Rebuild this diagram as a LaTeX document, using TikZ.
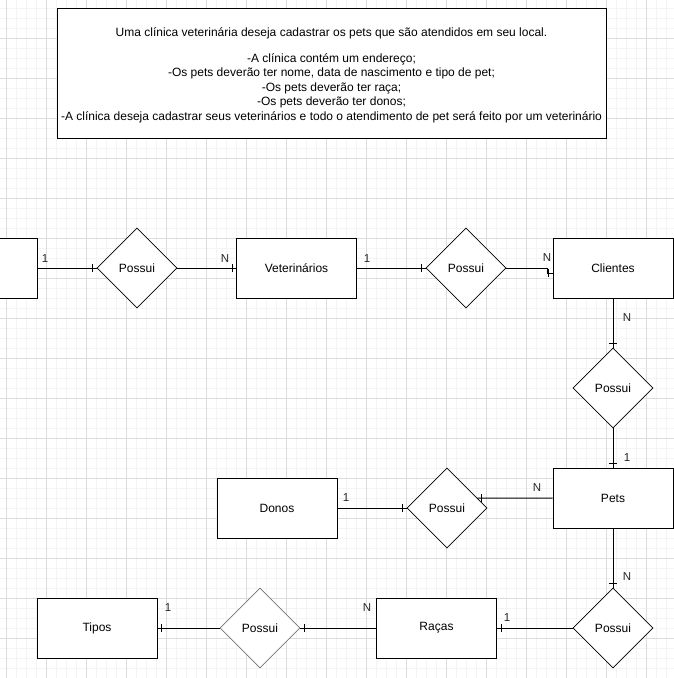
\documentclass[tikz,border=0pt]{standalone}
\usepackage{fontspec}
\setmainfont{Liberation Sans}
\usetikzlibrary{shapes.geometric,decorations.markings}
\definecolor{gridminor}{HTML}{F4F4F4}
\definecolor{gridmajor}{HTML}{DCDCDC}
\begin{document}
\begin{tikzpicture}[x=1pt,y=-1pt,
  entity/.style={draw, fill=white, line width=1pt, minimum width=120pt,
    minimum height=60pt, inner sep=0pt, font=\fontsize{12}{14}\selectfont},
  relation/.style={draw, fill=white, diamond, line width=0.8pt,
    minimum width=80pt, minimum height=80pt, inner sep=0pt,
    font=\fontsize{12}{14}\selectfont},
  card/.style={font=\fontsize{11.5}{13}\selectfont, inner sep=0pt, text=black!85},
  link/.style={line width=1pt},
  tickend/.style={postaction={decorate}, decoration={markings,
    mark=at position -4pt with {\draw[line width=0.9pt] (0,-4pt) -- (0,4pt);}}},
  note/.style={draw, fill=white, line width=1pt, minimum width=549pt,
    minimum height=130pt, inner sep=0pt, align=center,
    font=\fontsize{12}{14.5}\selectfont}
]
\useasboundingbox (0,0) rectangle (674,678);
\clip (0,0) rectangle (674,678);
\fill[white] (0,0) rectangle (674,678);

% background grid: fine lines every 10, strong lines every 40
\foreach \x in {6,16,...,676} \draw[gridminor, line width=1pt] (\x,0) -- (\x,678);
\foreach \y in {8,18,...,678} \draw[gridminor, line width=1pt] (0,\y) -- (674,\y);
\foreach \x in {6,46,...,676} \draw[gridmajor, line width=1pt] (\x,0) -- (\x,678);
\foreach \y in {38,78,...,678} \draw[gridmajor, line width=1pt] (0,\y) -- (674,\y);

% requirements note
\draw[line width=1pt, fill=white] (57,8) rectangle (606,138);
\node[align=center, inner sep=0pt, font=\fontsize{12}{14.5}\selectfont] (req) at (331.5,75) {Uma clínica veterinária deseja cadastrar os pets que são atendidos em seu local.\\[11.5pt]
-A clínica contém um endereço;\\
-Os pets deverão ter nome, data de nascimento e tipo de pet;\\
-Os pets deverão ter raça;\\
-Os pets deverão ter donos;\\
-A clínica deseja cadastrar seus veterinários e todo o atendimento de pet será feito por um veterinário};

% entities
\node[entity] (clinica) at (-23,268) {};
\node[entity] (vet) at (296.5,268) {Veterinários};
\node[entity] (clientes) at (613,268) {Clientes};
\node[entity] (pets) at (613,498) {Pets};
\node[entity] (donos) at (277,508) {Donos};
\node[entity] (racas) at (436.5,628) {Raças};
\node[entity] (tipos) at (97,628) {Tipos};

% relationships
\node[relation] (r1) at (137,268) {Possui};
\node[relation] (r2) at (466,268) {Possui};
\node[relation] (r3) at (613,388) {Possui};
\node[relation] (r4) at (447,508) {Possui};
\node[relation] (r5) at (613,628) {Possui};
\node[relation, draw=black!55] (r6) at (260,628) {Possui};

% connectors
\coordinate (jog) at (547,273);
\draw[link,tickend] (clinica.east) -- (r1.west);
\draw[link,tickend] (r1.east) -- (vet.west);
\draw[link,tickend] (vet.east) -- (r2.west);
\draw[link,tickend] (r2.east) -| (jog) -- (jog -| clientes.west);
\draw[link,tickend] (clientes.south) -- (r3.north);
\draw[link,tickend] (r3.south) -- (pets.north);
\draw[link,tickend] (donos.east) -- (r4.west);
\draw[link,tickend] (pets.west) -- (r4.18.43);
\draw[link,tickend] (pets.south) -- (r5.north);
\draw[link,tickend] (r5.west) -- (racas.east);
\draw[link,tickend] (racas.west) -- (r6.east);
\draw[link,tickend] (r6.west) -- (tipos.east);

% cardinalities
\node[card] (c1) at (45,259) {1};
\node[card] (c2) at (225,259) {N};
\node[card] (c3) at (367,259) {1};
\node[card] (c4) at (547,258) {N};
\node[card] (c5) at (627,318) {N};
\node[card] (c6) at (627,458) {1};
\node[card] (c7) at (346,498) {1};
\node[card] (c8) at (537,488) {N};
\node[card] (c9) at (627,577) {N};
\node[card] (c10) at (507,618) {1};
\node[card] (c11) at (367,608) {N};
\node[card] (c12) at (168,608) {1};
\end{tikzpicture}
\end{document}
